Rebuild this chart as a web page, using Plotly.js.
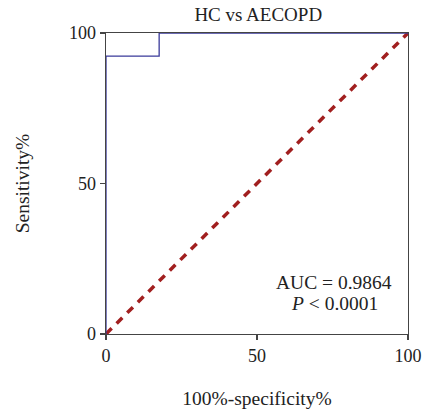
<!DOCTYPE html>
<html><head><meta charset="utf-8">
<script src="https://cdn.plot.ly/plotly-3.0.1.min.js"></script>
<style>html,body{margin:0;padding:0;background:#fff}</style>
</head><body>
<div id="chart" style="width:422px;height:420px"></div>
<script>
var rocX = [0, 0, 17.6, 17.6, 100];
var rocY = [0, 92.3, 92.3, 100, 100];
var refX = [0, 100];
var refY = [0, 100];
var tickVals = [0, 50, 100];
var tickText = ['0', '50', '100'];
var F = 'Liberation Serif, Times New Roman, serif';

var data = [
  {x: refX, y: refY, mode: 'lines', line: {color: '#a11f1f', width: 3.5, dash: '8px,7px'}, hoverinfo: 'none', cliponaxis: false},
  {x: rocX, y: rocY, mode: 'lines', line: {color: '#3a3a9a', width: 1.3}, hoverinfo: 'none', cliponaxis: false}
];
var layout = {
  width: 422, height: 420,
  margin: {l: 106, r: 14, t: 33, b: 86},
  paper_bgcolor: '#fff', plot_bgcolor: '#fff',
  showlegend: false,
  font: {family: F, size: 18, color: '#222'},
  title: {text: 'HC vs AECOPD', font: {family: F, size: 19, color: '#222'}, x: 0.612, xanchor: 'center', y: 0.966, yanchor: 'middle'},
  xaxis: {range: [0, 100], tickvals: tickVals, ticktext: tickText, ticks: 'outside', ticklen: 5, tickwidth: 1.3, tickcolor: '#444',
    showgrid: false, zeroline: false, showline: true, linecolor: '#444', linewidth: 1.3, mirror: true,
    tickfont: {family: F, size: 18, color: '#222'},
    title: {text: '100%-specificity%', font: {family: F, size: 19.5, color: '#222'}, standoff: 26}},
  yaxis: {range: [0, 100], tickvals: tickVals, ticktext: tickText, ticks: 'outside', ticklen: 5, tickwidth: 1.3, tickcolor: '#444',
    showgrid: false, zeroline: false, showline: true, linecolor: '#444', linewidth: 1.3, mirror: true,
    tickfont: {family: F, size: 18, color: '#222'},
    title: {text: 'Sensitivity%', font: {family: F, size: 19.5, color: '#222'}, standoff: 34}},
  annotations: [
    {text: 'AUC = 0.9864', xref: 'x', yref: 'y', x: 75.5, y: 17, showarrow: false, font: {family: F, size: 19.5, color: '#222'}},
    {text: '<i>P</i> &lt; 0.0001', xref: 'x', yref: 'y', x: 75.5, y: 10, showarrow: false, font: {family: F, size: 19.5, color: '#222'}}
  ]
};
Plotly.newPlot('chart', data, layout, {staticPlot: true, displayModeBar: false});
</script>
</body></html>
